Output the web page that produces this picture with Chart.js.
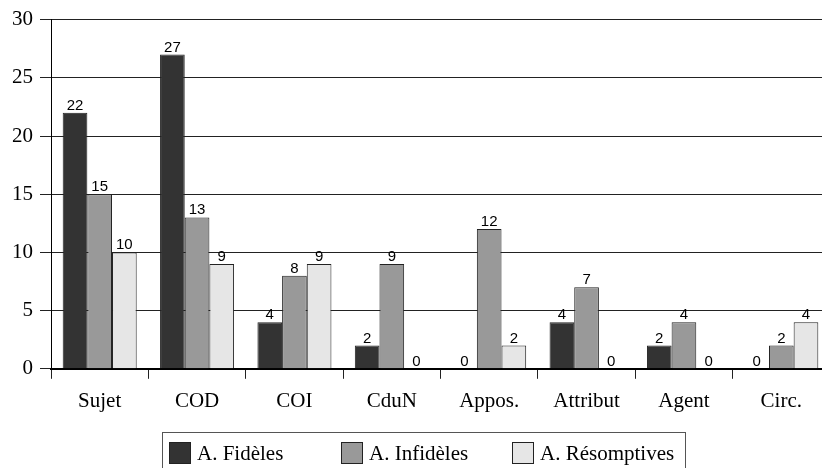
<!DOCTYPE html>
<html>
<head>
<meta charset="utf-8">
<script src="https://cdn.jsdelivr.net/npm/chart.js@4/dist/chart.umd.min.js"></script>
<style>
  html, body { margin: 0; padding: 0; background: #fff; overflow: hidden; }
  #wrap { position: absolute; left: 0; top: 0; width: 832px; height: 468px; }
</style>
</head>
<body>
<div id="wrap"><canvas id="c"></canvas></div>
<script>
const categories = ['Sujet', 'COD', 'COI', 'CduN', 'Appos.', 'Attribut', 'Agent', 'Circ.'];
const fideles     = [22, 27, 4, 2, 0, 4, 2, 0];
const infideles   = [15, 13, 8, 9, 12, 7, 4, 2];
const resomptives = [10, 9, 9, 0, 2, 0, 0, 4];
const seriesNames = ['A. Fidèles', 'A. Infidèles', 'A. Résomptives'];
const yTicks = [0, 5, 10, 15, 20, 25, 30];

const serif = '"Liberation Serif", "Times New Roman", serif';
const sans = '"Liberation Sans", Arial, sans-serif';

// value labels above every bar
const valueLabels = {
  id: 'valueLabels',
  afterDatasetsDraw(chart) {
    const ctx = chart.ctx;
    ctx.save();
    ctx.font = '15px ' + sans;
    ctx.fillStyle = '#000';
    ctx.textAlign = 'center';
    ctx.textBaseline = 'alphabetic';
    chart.data.datasets.forEach((ds, i) => {
      chart.getDatasetMeta(i).data.forEach((bar, j) => {
        ctx.fillText(String(ds.data[j]), bar.x, bar.y - 3);
      });
    });
    ctx.restore();
  }
};

// framed legend with evenly spaced entries below the axis
const framedLegend = {
  id: 'framedLegend',
  afterDraw(chart) {
    const ctx = chart.ctx;
    const frameLeft = 162, frameRight = 685, frameTop = 432;
    const firstBox = 169, step = 171.5, boxSize = 22, boxTop = 442;
    ctx.save();
    ctx.strokeStyle = '#555';
    ctx.lineWidth = 1;
    ctx.strokeRect(frameLeft + 0.5, frameTop + 0.5, frameRight - frameLeft, 60);
    ctx.font = '21px ' + serif;
    ctx.textBaseline = 'middle';
    ctx.textAlign = 'left';
    chart.data.datasets.forEach((d, i) => {
      const x = Math.round(firstBox + i * step);
      ctx.fillStyle = d.backgroundColor;
      ctx.fillRect(x, boxTop, boxSize, boxSize);
      ctx.strokeStyle = '#222';
      ctx.strokeRect(x + 0.5, boxTop + 0.5, boxSize - 1, boxSize - 1);
      ctx.fillStyle = '#000';
      ctx.fillText(d.label, x + boxSize + 6, boxTop + boxSize / 2 + 1);
    });
    ctx.restore();
  }
};

const ds = (label, data, color) => ({
  label, data,
  backgroundColor: color,
  borderColor: '#222',
  borderWidth: 1,
  borderSkipped: 'bottom',
  categoryPercentage: 0.76,
  barPercentage: 1.0
});

new Chart(document.getElementById('c'), {
  type: 'bar',
  data: {
    labels: categories,
    datasets: [
      ds(seriesNames[0], fideles, '#333333'),
      ds(seriesNames[1], infideles, '#999999'),
      ds(seriesNames[2], resomptives, '#e6e6e6')
    ]
  },
  options: {
    responsive: true,
    maintainAspectRatio: false,
    animation: false,
    layout: { padding: { top: 10, left: 5, right: 2, bottom: 44 } },
    plugins: {
      legend: { display: false },
      tooltip: { enabled: false }
    },
    scales: {
      x: {
        offset: true,
        grid: {
          drawOnChartArea: false,
          drawTicks: true,
          tickLength: 10,
          color: '#222',
          offset: true
        },
        border: { color: '#000', width: 2 },
        ticks: {
          color: '#000',
          font: { family: serif, size: 21 },
          padding: 10,
          maxRotation: 0
        }
      },
      y: {
        min: 0,
        max: 30,
        afterBuildTicks(axis) { axis.ticks = yTicks.map(v => ({ value: v })); },
        grid: {
          color: '#222',
          lineWidth: 1,
          tickLength: 11
        },
        border: { color: '#000', width: 1 },
        ticks: {
          color: '#000',
          font: { family: serif, size: 21 },
          padding: 7
        }
      }
    }
  },
  plugins: [valueLabels, framedLegend]
});
</script>
</body>
</html>
